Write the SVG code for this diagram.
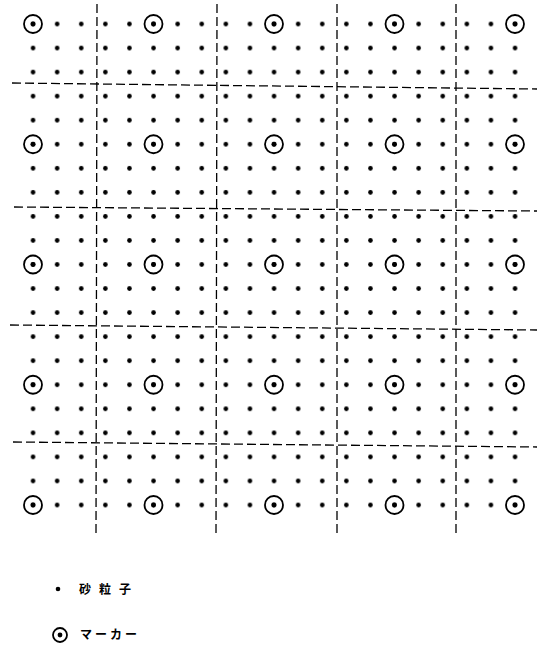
<svg xmlns="http://www.w3.org/2000/svg" xmlns:xlink="http://www.w3.org/1999/xlink" width="544" height="648" viewBox="0 0 544 648">
  <style>
    .dash { stroke: #000; stroke-width: 1.3; stroke-dasharray: 9 4; fill: none; }
    .ring { fill: none; stroke: #000; stroke-width: 1.8; }
    .dot { fill: #000; }
    .lbl { font-family: "Noto Sans CJK JP", "Noto Sans", sans-serif; font-size: 12px; font-weight: bold; fill: #000; }
  </style>
  <defs>
    <pattern id="dots" patternUnits="userSpaceOnUse" x="21" y="12" width="24.1" height="24.05">
      <circle cx="12.05" cy="12.025" r="2.3" class="dot"/>
    </pattern>
    <g id="marker">
      <circle r="9" class="ring"/>
      <circle r="2.4" class="dot"/>
    </g>
    <g id="marker-small">
      <circle r="7" class="ring"/>
      <circle r="2.4" class="dot"/>
    </g>
  </defs>
  <rect width="544" height="648" fill="#fff"/>

  <g id="particles">
    <rect x="21" y="12" width="506.1" height="505.05" fill="url(#dots)"/>
  </g>

  <g id="markers">
    <use xlink:href="#marker" x="33" y="24"/>
    <use xlink:href="#marker" x="153.5" y="24"/>
    <use xlink:href="#marker" x="274" y="24"/>
    <use xlink:href="#marker" x="394.5" y="24"/>
    <use xlink:href="#marker" x="515" y="24"/>
    <use xlink:href="#marker" x="33" y="144.25"/>
    <use xlink:href="#marker" x="153.5" y="144.25"/>
    <use xlink:href="#marker" x="274" y="144.25"/>
    <use xlink:href="#marker" x="394.5" y="144.25"/>
    <use xlink:href="#marker" x="515" y="144.25"/>
    <use xlink:href="#marker" x="33" y="264.5"/>
    <use xlink:href="#marker" x="153.5" y="264.5"/>
    <use xlink:href="#marker" x="274" y="264.5"/>
    <use xlink:href="#marker" x="394.5" y="264.5"/>
    <use xlink:href="#marker" x="515" y="264.5"/>
    <use xlink:href="#marker" x="33" y="384.75"/>
    <use xlink:href="#marker" x="153.5" y="384.75"/>
    <use xlink:href="#marker" x="274" y="384.75"/>
    <use xlink:href="#marker" x="394.5" y="384.75"/>
    <use xlink:href="#marker" x="515" y="384.75"/>
    <use xlink:href="#marker" x="33" y="505"/>
    <use xlink:href="#marker" x="153.5" y="505"/>
    <use xlink:href="#marker" x="274" y="505"/>
    <use xlink:href="#marker" x="394.5" y="505"/>
    <use xlink:href="#marker" x="515" y="505"/>
  </g>

  <g id="grid-lines">
    <line class="dash" x1="97" y1="4" x2="96" y2="534"/>
    <line class="dash" x1="217" y1="4" x2="216" y2="534"/>
    <line class="dash" x1="337" y1="4" x2="337" y2="534"/>
    <line class="dash" x1="456" y1="4" x2="456" y2="534"/>
    <line class="dash" x1="12" y1="83" x2="537" y2="89"/>
    <line class="dash" x1="14" y1="207" x2="537" y2="211"/>
    <line class="dash" x1="10" y1="325" x2="537" y2="330"/>
    <line class="dash" x1="13" y1="442" x2="537" y2="447"/>
  </g>

  <g id="legend">
    <circle cx="58" cy="589" r="2.3" class="dot"/>
    <text x="79" y="593.5" class="lbl" letter-spacing="8">砂粒子</text>
    <use xlink:href="#marker-small" x="60" y="635"/>
    <text x="80" y="639" class="lbl" font-size="11" letter-spacing="3">マーカー</text>
  </g>
</svg>
